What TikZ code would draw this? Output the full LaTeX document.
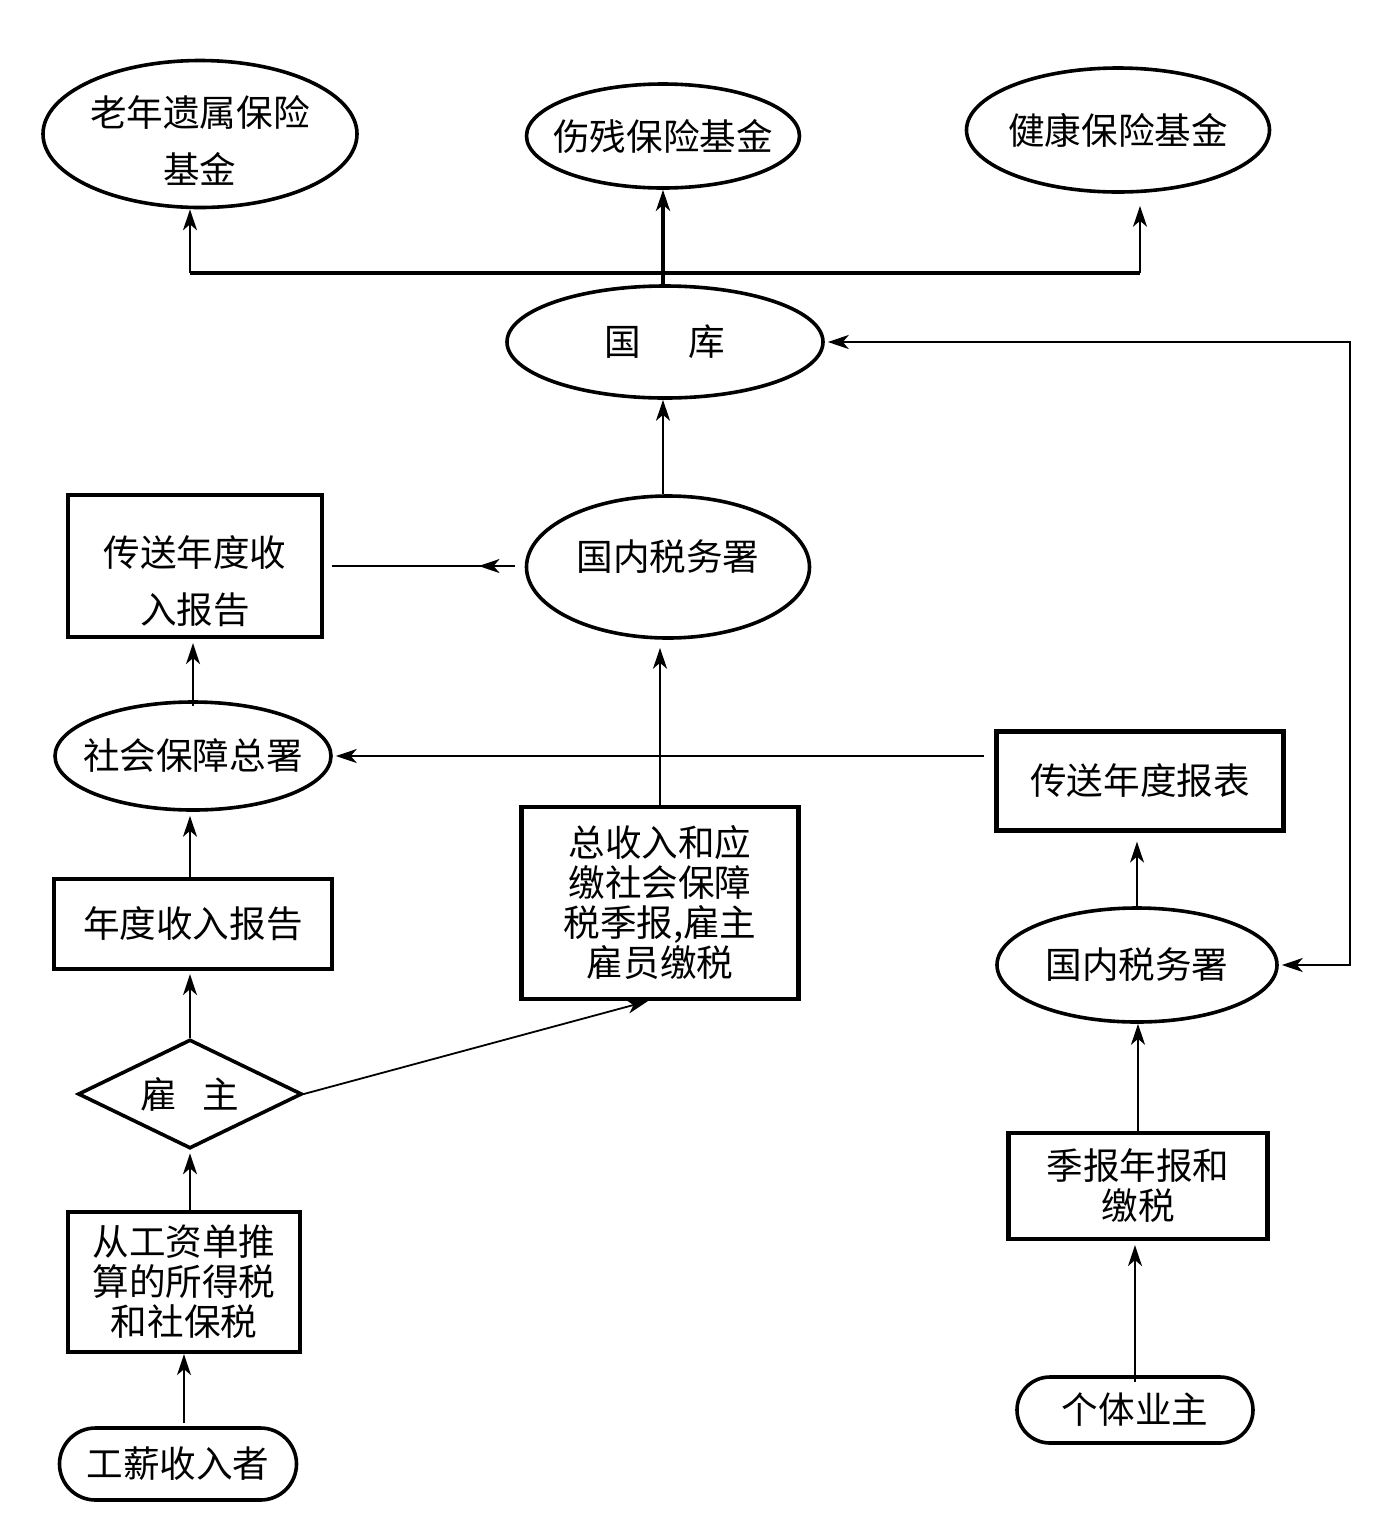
\documentclass[tikz,border=0pt]{standalone}
\usepackage{fontspec}
\setmainfont{Noto Sans CJK SC}
\usetikzlibrary{shapes.geometric,shapes.misc,arrows.meta,decorations.markings}
\begin{document}
\begin{tikzpicture}[x=0.5pt,y=-0.5pt,
  >={Stealth[length=10.5pt,width=7pt,inset=3pt]},
  shp/.style={draw, line width=1.8pt, inner sep=0pt, align=center, font=\fontsize{18.3pt}{20pt}\selectfont},
  ell/.style={shp, ellipse},
  boxn/.style={shp, rectangle, line width=2.1pt},
  dia/.style={shp, diamond, aspect=2},
  stad/.style={shp, rounded rectangle},
  txt/.style={inner sep=0pt, align=center, font=\fontsize{18.3pt}{28.5pt}\selectfont},
  arr/.style={line width=0.9pt, ->},
  thk/.style={line width=2pt},
]
\useasboundingbox (0,0) rectangle (1373,1528);

% nodes
\node[ell, minimum width=157pt, minimum height=73.5pt] (e1) at (200,134) {};
\node[txt] (e1t) at ([yshift=-3.25pt]e1.center) {老年遗属保险\\基金};
\node[ell, minimum width=136.5pt, minimum height=52pt] (e2) at (663,136) {};
\node[txt] (e2t) at (e2.center) {伤残保险基金};
\node[ell, minimum width=151.5pt, minimum height=62pt] (e3) at (1118,130) {};
\node[txt] (e3t) at (e3.center) {健康保险基金};
\node[ell, minimum width=158pt, minimum height=56pt] (guoku) at (665,342) {国\hspace{1.3em}库};
\node[ell, minimum width=141.5pt, minimum height=71pt] (swj1) at (668,567) {};
\node[txt] (swj1t) at ([yshift=5pt]swj1.center) {国内税务署};
\node[boxn, minimum width=127pt, minimum height=71pt] (b1) at (195,566) {};
\node[txt] (b1t) at ([yshift=-7.5pt]b1.center) {传送年度收\\入报告};
\node[ell, minimum width=138pt, minimum height=54pt] (shb) at (193,756) {};
\node[txt] (shbt) at (shb.center) {社会保障总署};
\node[boxn, minimum width=143.5pt, minimum height=49.5pt] (b2) at (1140,781) {传送年度报表};
\node[boxn, minimum width=138.5pt, minimum height=96pt] (zsr) at (660,903) {总收入和应\\缴社会保障\\税季报,雇主\\雇员缴税};
\node[boxn, minimum width=139pt, minimum height=45pt] (b3) at (193,924) {年度收入报告};
\node[dia, minimum width=112pt, minimum height=54.5pt] (dia) at (190,1094) {雇\hspace{0.68em}主};
\node[boxn, minimum width=116pt, minimum height=70pt] (b4) at (184,1282) {从工资单推\\算的所得税\\和社保税};
\node[stad, minimum width=118.5pt, minimum height=36pt] (st1) at (178,1464) {工薪收入者};
\node[ell, minimum width=140pt, minimum height=57pt] (swj2) at (1137,965) {};
\node[txt] (swj2t) at (swj2.center) {国内税务署};
\node[boxn, minimum width=129.5pt, minimum height=53pt] (b5) at (1138,1186) {季报年报和\\缴税};
\node[stad, minimum width=118pt, minimum height=33pt] (st2) at (1135,1410) {个体业主};

% bus
\coordinate (busL) at (190,273);
\coordinate (busM) at (663,273);
\coordinate (busR) at (1140,273);
\draw[thk] (busL) -- (busR);
\draw[thk] (busM |- guoku.north) -- (busM);
\draw[thk, ->] (busM) -- (busM |- e2.south);
\draw[arr] (busL) -- (busL |- e1.south);
\draw[arr, shorten >=6pt] (busR) -- (busR |- e3.south);

% middle column
\draw[arr] (busM |- swj1.north) -- (busM |- guoku.south);
\draw[line width=0.9pt, shorten <=5pt, shorten >=4pt, postaction={decorate},
  decoration={markings, mark=at position 0.23 with {\arrow{Stealth[length=10.5pt,width=7pt,inset=3pt]}}}]
  (swj1.west |- b1.east) -- (b1.east);
\draw[arr, shorten >=4pt] (zsr.north) -- (zsr.north |- swj1.south);
\draw[arr] (dia.east) -- (zsr.263);

% left column
\draw[arr, shorten <=-3pt, shorten >=2pt] (shb.north) -- (shb.north |- b1.south);
\draw[arr, shorten >=2pt] (dia.north |- b3.north) -- (dia.north |- shb.south);
\draw[arr, shorten >=1.5pt] (dia.north) -- (dia.north |- b3.south);
\draw[arr, shorten >=1.5pt] (dia.south |- b4.north) -- (dia.south);
\draw[arr, shorten <=1.5pt] (b4.south |- st1.north) -- (b4.south);

% right column
\draw[arr, shorten <=5pt, shorten >=1.5pt] (b2.west |- shb.east) -- (shb.east);
\draw[arr, shorten >=4.5pt] (swj2.north) -- (swj2.north |- b2.south);
\draw[arr] (b5.north) -- (b5.north |- swj2.south);
\draw[arr, shorten <=-3.5pt, shorten >=2pt] (st2.north) -- (st2.north |- b5.south);

% right loop
\coordinate (rtop) at (1350,342);
\coordinate (rbot) at (1350,965);
\draw[line width=1.1pt, <->, shorten <=1.5pt, shorten >=1.5pt] (guoku.east) -- (rtop) -- (rbot) -- (swj2.east);
\end{tikzpicture}
\end{document}
